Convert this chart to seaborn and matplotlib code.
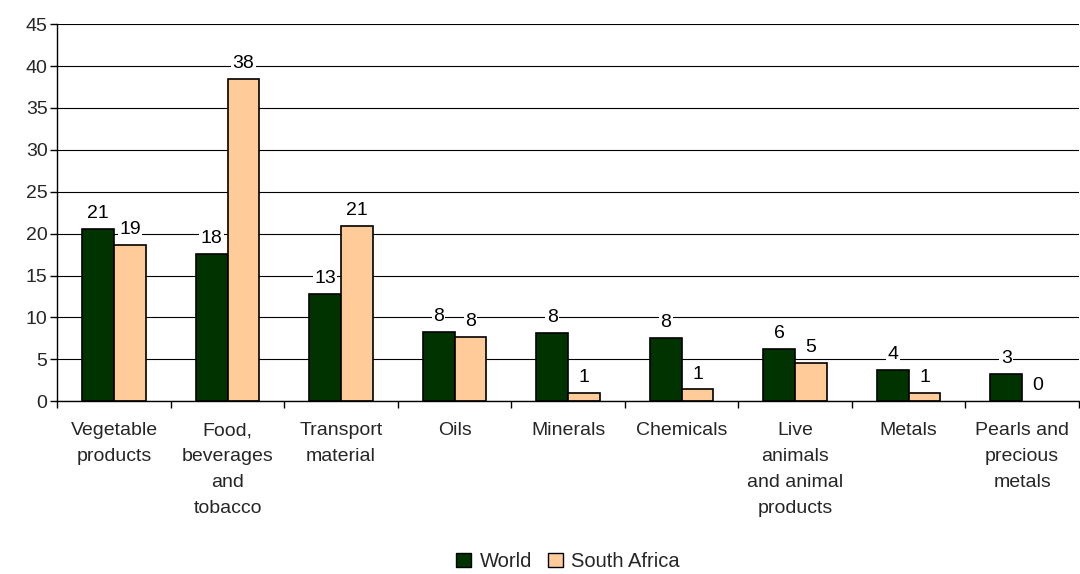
import numpy as np
import pandas as pd
import matplotlib
matplotlib.use("Agg")
import matplotlib.pyplot as plt
import seaborn as sns
from matplotlib.ticker import FixedLocator, MultipleLocator

# data
categories = ["Vegetable\nproducts", "Food,\nbeverages\nand\ntobacco", "Transport\nmaterial",
              "Oils", "Minerals", "Chemicals", "Live\nanimals\nand animal\nproducts",
              "Metals", "Pearls and\nprecious\nmetals"]
world = [20.6, 17.6, 12.8, 8.3, 8.1, 7.6, 6.2, 3.7, 3.3]
south_africa = [18.7, 38.5, 20.9, 7.7, 1.0, 1.4, 4.6, 1.0, 0.0]
series = ["World", "South Africa"]
colors = ["#003300", "#FFCC99"]

df = pd.DataFrame({
    "category": categories * 2,
    "value": world + south_africa,
    "series": [series[0]] * len(categories) + [series[1]] * len(categories),
})

sns.set_theme(style="white")
plt.rcParams["font.family"] = ["Liberation Sans", "DejaVu Sans"]

fig = plt.figure(figsize=(10.8, 5.74), dpi=100)
ax = fig.add_axes([0.053, 0.301, 0.946, 0.657])

sns.barplot(data=df, x="category", y="value", hue="series", palette=colors,
            edgecolor="black", linewidth=1.2, width=0.56, saturation=1, ax=ax)

for cont in ax.containers:
    for p in cont:
        if p.get_height() == 0:
            p.set_linewidth(0)
    lbls = ax.bar_label(cont, fmt="%.0f", padding=5, fontsize=14, color="black")
    for t in lbls:
        t.set_bbox(dict(facecolor="white", edgecolor="none", pad=1))

ax.set_ylim(0, 45)
ax.set_xlim(-0.5, len(categories) - 0.5)
ax.yaxis.set_major_locator(MultipleLocator(5))
ax.grid(axis="y", color="black", linewidth=0.8)
ax.set_axisbelow(True)

for s in ["top", "right"]:
    ax.spines[s].set_visible(False)
for s in ["left", "bottom"]:
    ax.spines[s].set_color("black")
    ax.spines[s].set_linewidth(1)

ax.tick_params(axis="y", which="major", left=True, length=5, width=1, color="black",
               labelsize=14, pad=2)
ax.tick_params(axis="x", which="major", bottom=False, labelsize=14, pad=9)
ax.xaxis.set_minor_locator(FixedLocator(np.arange(-0.5, len(categories), 1.0)))
ax.tick_params(axis="x", which="minor", bottom=True, length=5, width=1, color="black")
for t in ax.get_xticklabels():
    t.set_linespacing(1.68)
    t.set_ha("center")

ax.set_xlabel("")
ax.set_ylabel("")

leg = ax.legend(loc="center", bbox_to_anchor=(0.5, -0.425), ncol=2, frameon=False,
                fontsize=14.5, handlelength=0.75, handleheight=0.75, handletextpad=0.4,
                columnspacing=0.8, borderpad=0.2)
for h in leg.legend_handles:
    h.set_edgecolor("black")
    h.set_linewidth(1)

fig.savefig("out.png", dpi=100)
